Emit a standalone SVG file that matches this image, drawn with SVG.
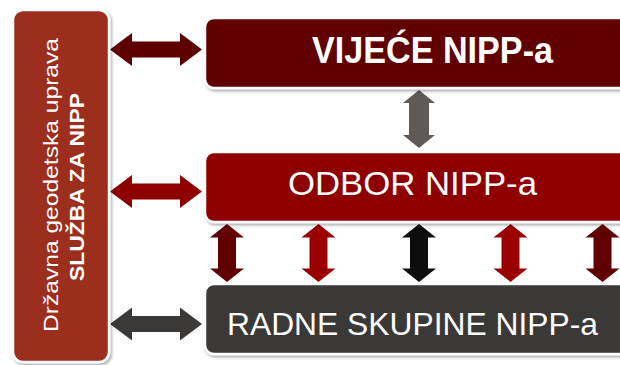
<svg xmlns="http://www.w3.org/2000/svg" xmlns:xlink="http://www.w3.org/1999/xlink" width="620" height="365" viewBox="0 0 620 365">
  <defs>
    <filter id="sh" x="-10%" y="-10%" width="120%" height="130%">
      <feDropShadow dx="1.5" dy="2" stdDeviation="1.8" flood-color="#000" flood-opacity="0.35"/>
    </filter>
    <polygon id="varrow" points="0,-29 17,-15.5 9,-15.5 9,15.5 17,15.5 0,29 -17,15.5 -9,15.5 -9,-15.5 -17,-15.5"/>
  </defs>
  <style>
    .box { stroke: #ffffff; stroke-width: 2.5; filter: url(#sh); }
    .t { font-family: "Liberation Sans", Arial, sans-serif; fill: #ffffff; }
  </style>
  <rect width="620" height="365" fill="#ffffff"/>

  <g id="connectors">
    <polygon fill="#5f0000" points="110,49.5 132,33 132,41.5 180,41.5 180,33 202,49.5 180,66 180,57.5 132,57.5 132,66"/>
    <polygon fill="#8e0000" points="110,191.5 132,175 132,183.5 180,183.5 180,175 202,191.5 180,208 180,199.5 132,199.5 132,208"/>
    <polygon fill="#3b3937" points="110,324 132,307.5 132,316 180,316 180,307.5 202,324 180,340.5 180,332 132,332 132,340.5"/>
    <polygon fill="#5f5a58" points="419,90 435,103 429,103 429,135 435,135 419,148 403,135 409,135 409,103 403,103"/>
    <use xlink:href="#varrow" transform="translate(227,253)" fill="#600000"/>
    <use xlink:href="#varrow" transform="translate(318.5,253)" fill="#9a0000"/>
    <use xlink:href="#varrow" transform="translate(419,253)" fill="#0d0d0d"/>
    <use xlink:href="#varrow" transform="translate(510.5,253)" fill="#9a0000"/>
    <use xlink:href="#varrow" transform="translate(602.5,253)" fill="#600000"/>
  </g>

  <g id="dgu">
    <rect class="box" x="13" y="10" width="96" height="352" rx="10" fill="#9b2d1f"/>
    <text class="t" transform="translate(57.5,185) rotate(-90)" text-anchor="middle" font-size="20" textLength="294" lengthAdjust="spacingAndGlyphs">Državna geodetska uprava</text>
    <text class="t" transform="translate(83.5,187) rotate(-90)" text-anchor="middle" font-size="20" font-weight="bold" textLength="188" lengthAdjust="spacingAndGlyphs">SLUŽBA ZA NIPP</text>
  </g>

  <g id="vijece">
    <rect class="box" x="205" y="18" width="430" height="70" rx="9" fill="#600000"/>
    <text class="t" x="312" y="63" font-size="36" font-weight="bold" textLength="241" lengthAdjust="spacingAndGlyphs">VIJEĆE NIPP-a</text>
  </g>

  <g id="odbor">
    <rect class="box" x="205" y="152" width="430" height="70" rx="9" fill="#8e0000"/>
    <text class="t" x="288" y="195" font-size="33" textLength="249" lengthAdjust="spacingAndGlyphs">ODBOR NIPP-a</text>
  </g>

  <g id="radne">
    <rect class="box" x="205" y="284" width="430" height="70" rx="9" fill="#3b3937"/>
    <text class="t" x="227" y="335" font-size="32" textLength="371" lengthAdjust="spacingAndGlyphs">RADNE SKUPINE NIPP-a</text>
  </g>
</svg>
